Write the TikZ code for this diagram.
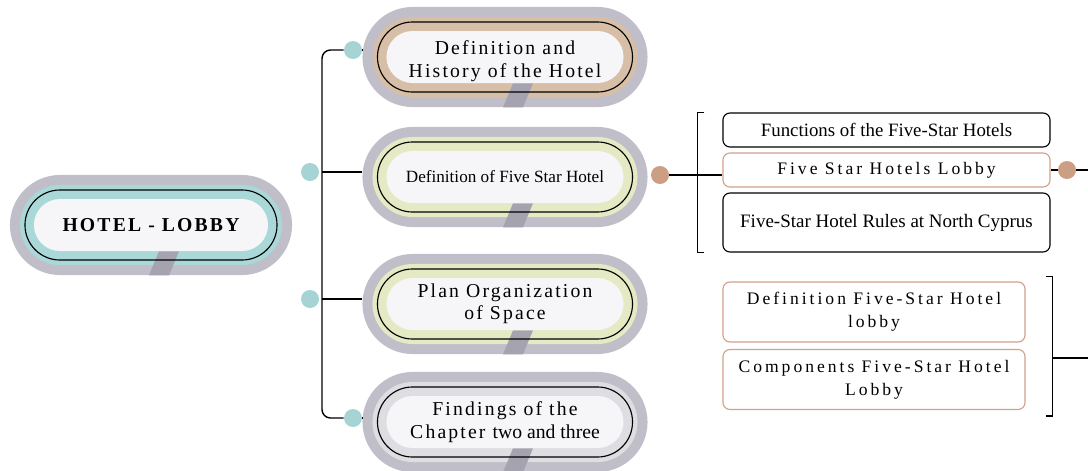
\documentclass[tikz,border=0pt]{standalone}
\usepackage{fontspec}
\setmainfont{Liberation Serif}
\newfontfamily\spaced[LetterSpace=11]{Liberation Serif}
\newfontfamily\widespaced[LetterSpace=17]{Liberation Serif}
\usetikzlibrary{shapes.misc,calc}
\definecolor{shadowgray}{RGB}{192,190,200}
\definecolor{notchgray}{RGB}{165,163,175}
\definecolor{tealring}{RGB}{170,215,216}
\definecolor{tanring}{RGB}{214,191,166}
\definecolor{limering}{RGB}{229,233,196}
\definecolor{grayring}{RGB}{222,222,226}
\definecolor{innerwhite}{RGB}{246,246,248}
\definecolor{tanline}{RGB}{210,160,140}
\definecolor{tealdot}{RGB}{166,212,213}
\definecolor{tandot}{RGB}{204,158,132}

\begin{document}
\begin{tikzpicture}[x=0.025cm,y=-0.025cm]
	\tikzstyle{ringbox}=[rounded rectangle,inner sep=0pt,minimum height=2cm,preaction={draw=shadowgray,line width=0.5cm}]
	\tikzstyle{whitebox}=[rounded rectangle,inner sep=0pt,minimum height=1.3cm,fill=innerwhite]
	\tikzstyle{outline}=[rounded rectangle,inner sep=0pt,minimum height=1.75cm,draw=black,line width=0.8pt]
	\tikzstyle{pilltext}=[align=center,font=\spaced\fontsize{14}{16}\selectfont]
	\tikzstyle{blackbox}=[draw=black,line width=0.8pt,rounded corners=5pt,fill=white,minimum width=8.175cm,minimum height=0.85cm,inner sep=0pt,align=center]
	\tikzstyle{tanbox}=[blackbox,draw=tanline]
	\tikzstyle{tealdotst}=[circle,fill=tealdot,minimum size=0.45cm,inner sep=0pt]
	\tikzstyle{tandotst}=[circle,fill=tandot,minimum size=0.45cm,inner sep=0pt]
	\tikzstyle{link}=[draw=black,line width=1pt]
	\useasboundingbox (0,0) rectangle (1088,470);

	% pills
	\foreach \n/\x/\y/\w/\c in {hotel/151/225/6.55/tealring, h1/505/57/6.625/tanring, h2/505/177/6.625/limering, h3/505/304/6.625/limering, h4/505/422/6.625/grayring}{
		\node[ringbox,fill=\c,minimum width=\w cm] (\n bg) at (\x,\y) {};
		\fill[notchgray] ($(\n bg.south)+(8,-14)$) -- ++(20,0) -- ++(-10,24) -- ++(-20,0) -- cycle;
		\node[whitebox,minimum width=\w cm-0.7cm] at (\n bg) {};
		\node[outline,minimum width=\w cm-0.25cm] at (\n bg) {};
	}
	\node[pilltext,font=\bfseries\spaced\fontsize{14}{16}\selectfont] (hotel) at (hotelbg) {HOTEL - LOBBY};
	\node[pilltext] (h1) at ($(h1bg)+(0,4)$) {Definition and\\History of the Hotel};
	\node[pilltext,font=\fontsize{12.2}{15}\selectfont] (h2) at (h2bg) {Definition of Five Star Hotel};
	\node[pilltext] (h3) at (h3bg) {Plan Organization\\of Space};
	\node[pilltext] (h4) at (h4bg) {Findings of the\\Chapter {\rmfamily two and three}};

	% tree
	\node[tealdotst] (d1) at (353,50) {};
	\node[tealdotst] (d2) at (310,172) {};
	\node[tealdotst] (d3) at (310,299) {};
	\node[tealdotst] (d4) at (353,418) {};
	\coordinate (top) at (322,50);
	\coordinate (bot) at (322,418);
	\draw[link,rounded corners=6pt] (d1) -- (top) -- (bot) -- (d4);
	\draw[link,shorten >=7.1pt] (d1) -- (d1 -| h1bg.west);
	\draw[link,shorten >=7.1pt] (d2 -| top) -- (d2 -| h2bg.west);
	\draw[link,shorten >=7.1pt] (d3 -| top) -- (d3 -| h3bg.west);
	\draw[link,shorten >=7.1pt] (d4) -- (d4 -| h4bg.west);

	% five star boxes
	\node[tandotst] (td) at (660,175) {};
	\node[blackbox,font=\fontsize{13.4}{15}\selectfont] (f1) at (886.5,130) {Functions of the Five-Star Hotels};
	\node[tanbox,font=\widespaced\fontsize{12.5}{15}\selectfont] (f2) at (886.5,170) {Five Star Hotels Lobby};
	\node[blackbox,minimum height=1.475cm,font=\fontsize{13.5}{16}\selectfont] (f3) at (886.5,222.5) {Five-Star Hotel Rules at North Cyprus};
	\draw[link] (td) -- (td -| f2.west);
	\draw[link] ($(f1.north west)+(-18,0)$) -- ++(-7,0) |- ($(f3.south west)+(-18,0)$);
	\node[tandotst] (rd) at (1067,170) {};
	\coordinate (rend) at (1088,170);
	\draw[link] (f2) -- (rd) -- (rend);

	% lobby boxes
	\node[tanbox,minimum width=7.55cm,minimum height=1.5cm,font=\widespaced\fontsize{12.5}{16.5}\selectfont] (g1) at (874,312) {Definition Five-Star Hotel\\lobby};
	\node[tanbox,minimum width=7.55cm,minimum height=1.5cm,font=\widespaced\fontsize{12.5}{16.5}\selectfont] (g2) at (874,379.5) {Components Five-Star Hotel\\Lobby};
	\draw[link] ($(g1.north east)+(20,-5)$) -- ++(7,0) |- ($(g2.south east)+(20,6)$);
	\coordinate (bmid) at (1052,358);
	\coordinate (bend) at (1088,358);
	\draw[link] (bmid) -- (bend);
\end{tikzpicture}
\end{document}
